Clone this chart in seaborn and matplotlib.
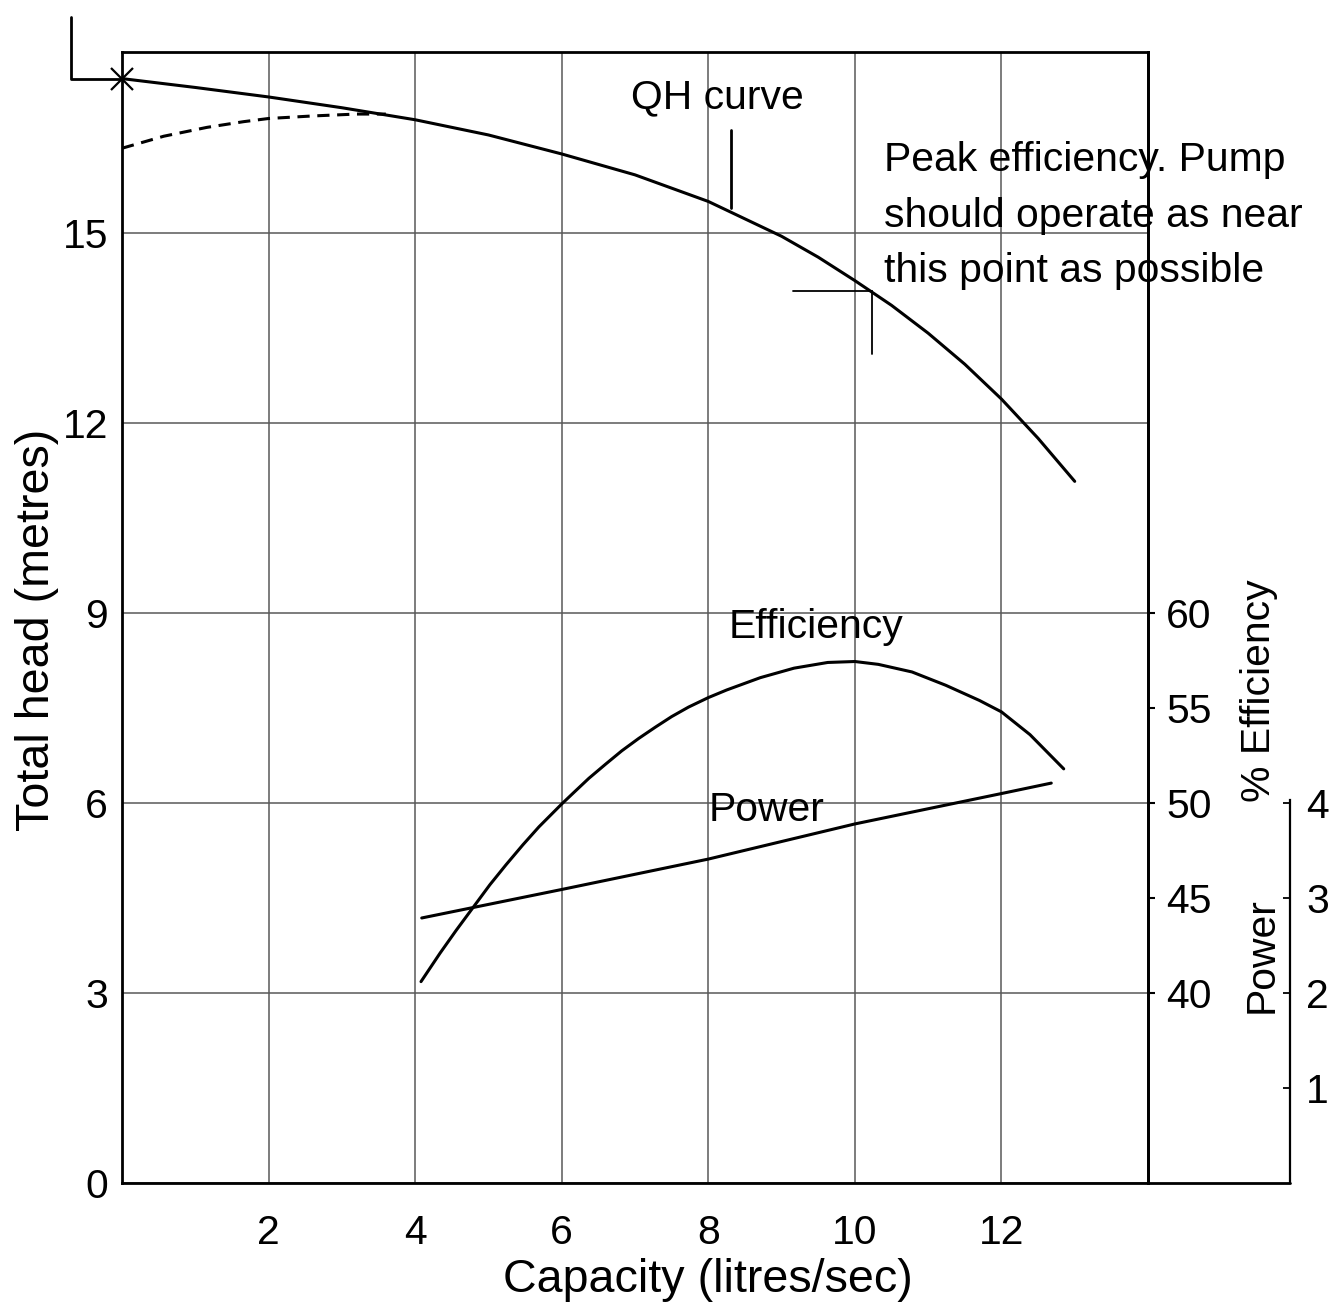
import matplotlib
matplotlib.use("Agg")
import matplotlib.pyplot as plt
from matplotlib import font_manager
import seaborn as sns
import pandas as pd

# Curva QH (altura total, m)
qh_x = [0.0, 1.0, 2.0, 3.0, 4.0, 5.0, 6.0, 7.0, 8.0, 9.0, 9.5, 10.0, 10.5, 11.0, 11.5, 12.0, 12.5, 13.0]
qh_head = [17.44, 17.30, 17.15, 16.98, 16.79, 16.55, 16.25, 15.92, 15.50, 14.95, 14.62, 14.25, 13.86, 13.42, 12.93, 12.38, 11.76, 11.08]

# Trecho tracejado no início da curva
dash_x = [0.0, 0.57, 1.16, 1.66, 2.0, 2.6, 3.2, 3.6]
dash_head = [16.34, 16.53, 16.67, 16.76, 16.81, 16.85, 16.88, 16.88]

# Eficiência (%)
eff_x = [4.08, 4.34, 4.56, 4.79, 5.02, 5.24, 5.47, 5.69, 6.0, 6.15, 6.37, 6.6, 6.82, 7.05, 7.28, 7.5,
         7.73, 8.0, 8.25, 8.71, 9.17, 9.63, 10.0, 10.32, 10.78, 11.24, 11.7, 12.0, 12.39, 12.85]
eff_pct = [40.6, 42.1, 43.3, 44.5, 45.7, 46.75, 47.8, 48.75, 49.95, 50.5, 51.3, 52.05, 52.75, 53.4, 54.0, 54.55,
           55.05, 55.55, 55.95, 56.6, 57.1, 57.4, 57.45, 57.3, 56.9, 56.2, 55.4, 54.8, 53.6, 51.8]

# Potência
pow_x = [4.09, 6.0, 8.0, 10.0, 12.0, 12.68]
pow_val = [2.79, 3.09, 3.41, 3.78, 4.10, 4.21]

x_ticks = [2, 4, 6, 8, 10, 12]
head_ticks = [0, 3, 6, 9, 12, 15]
eff_ticks = [40, 45, 50, 55, 60]
pow_ticks = [1, 2, 3, 4]

X_MAX = 14
HEAD_MAX = 17.86

sns.set_theme(style="white")
nomes = {f.name for f in font_manager.fontManager.ttflist}
if "Liberation Sans Narrow" in nomes:
    familia, esc = "Liberation Sans Narrow", 1.0
else:
    familia, esc = "Liberation Sans", 0.84
plt.rcParams["font.family"] = [familia, "DejaVu Sans"]
plt.rcParams["text.color"] = "black"
plt.rcParams["xtick.color"] = "black"
plt.rcParams["ytick.color"] = "black"
fs = 35 * esc
fs_lab = 40 * esc

fig = plt.figure(figsize=(13.37, 13.08), dpi=100)
ax = fig.add_axes([122 / 1337, 1 - 1183 / 1308, 1026 / 1337, 1131 / 1308])

df_qh = pd.DataFrame({"x": qh_x, "y": qh_head})
df_dash = pd.DataFrame({"x": dash_x, "y": dash_head})
sns.lineplot(data=df_qh, x="x", y="y", ax=ax, color="black", linewidth=2.2, zorder=5)
sns.lineplot(data=df_dash, x="x", y="y", ax=ax, color="black", linewidth=2.2,
             linestyle=(0, (4, 2.5)), zorder=5)
ax.plot(qh_x[0], qh_head[0], marker="x", color="black", markersize=16, mew=1.6,
        clip_on=False, zorder=6)

ax.set_xlim(0, X_MAX)
ax.set_ylim(0, HEAD_MAX)
ax.set_xticks(x_ticks)
ax.set_yticks(head_ticks)
ax.grid(True, color="0.35", linewidth=1.1)
ax.tick_params(axis="both", length=0, labelsize=fs, colors="black")
ax.tick_params(axis="x", pad=22)
ax.tick_params(axis="y", pad=10)
for s in ax.spines.values():
    s.set_color("black")
    s.set_linewidth(2.0)
ax.set_xlabel("")
ax.set_ylabel("")

# eixo de eficiência (mesma escala: 40% -> 3 m, 60% -> 9 m)
ax2 = ax.twinx()
df_eff = pd.DataFrame({"x": eff_x, "y": eff_pct})
sns.lineplot(data=df_eff, x="x", y="y", ax=ax2, color="black", linewidth=2.2)
ax2.set_ylim(40 - 3 * 20 / 6, 40 + (HEAD_MAX - 3) * 20 / 6)
ax2.set_yticks(eff_ticks)
ax2.tick_params(axis="y", direction="out", length=5, width=1.5, labelsize=fs, pad=8, colors="black")
ax2.set_ylabel("")
for k in ["left", "top", "bottom"]:
    ax2.spines[k].set_visible(False)
ax2.spines["right"].set_linewidth(2.0)
ax2.spines["right"].set_color("black")

# eixo de potência (4 -> 6 m)
ax3 = ax.twinx()
df_pow = pd.DataFrame({"x": pow_x, "y": pow_val})
sns.lineplot(data=df_pow, x="x", y="y", ax=ax3, color="black", linewidth=2.2)
ax3.set_ylim(0, HEAD_MAX / 1.5)
ax3.set_yticks(pow_ticks)
ax3.spines["right"].set_position(("axes", 1.138))
ax3.spines["right"].set_bounds(0, 4.03)
ax3.spines["right"].set_linewidth(1.6)
ax3.spines["right"].set_color("black")
for k in ["left", "top", "bottom"]:
    ax3.spines[k].set_visible(False)
ax3.tick_params(axis="y", direction="in", length=5, width=1.3, labelsize=fs, pad=12, colors="black")
ax3.set_ylabel("")

# linha de base prolongada até o eixo de potência
ax.plot([1, 1.138], [0, 0], transform=ax.transAxes, color="black", linewidth=2.0, clip_on=False)

# marcador em "L" na altura de shut-off
ax.plot([-0.05, -0.05, 0], [HEAD_MAX + 0.55, qh_head[0], qh_head[0]],
        transform=matplotlib.transforms.blended_transform_factory(ax.transAxes, ax.transData),
        color="black", linewidth=2.0, clip_on=False)

# rótulos dos eixos
ax.text(0.571, -0.066, "Capacity (litres/sec)", transform=ax.transAxes, ha="center", va="top", fontsize=fs_lab)
ax.text(-0.083, 0.489, "Total head (metres)", transform=ax.transAxes, ha="center", va="center",
        rotation=90, fontsize=fs_lab)
ax.text(1.108, 0.435, "% Efficiency", transform=ax.transAxes, ha="center", va="center", rotation=90, fontsize=fs)
ax.text(1.111, 0.2016, "Power", transform=ax.transAxes, ha="center", va="center", rotation=90, fontsize=fs)

# anotações
ax.text(8.13, 17.15, "QH curve", ha="center", va="center", fontsize=fs)
ax.plot([8.31, 8.31], [16.63, 15.4], color="black", linewidth=2.0)
ax.text(9.47, 8.78, "Efficiency", ha="center", va="center", fontsize=fs)
ax.text(8.8, 5.89, "Power", ha="center", va="center", fontsize=fs)
ax.plot([9.16, 10.23], [14.08, 14.08], color="black", linewidth=1.3)
ax.plot([10.23, 10.23], [14.08, 13.09], color="black", linewidth=1.3)
ax.text(10.4, 16.45, "Peak efficiency. Pump\nshould operate as near\nthis point as possible",
        ha="left", va="top", fontsize=fs, linespacing=1.58)

fig.savefig("out.png", dpi=100)
